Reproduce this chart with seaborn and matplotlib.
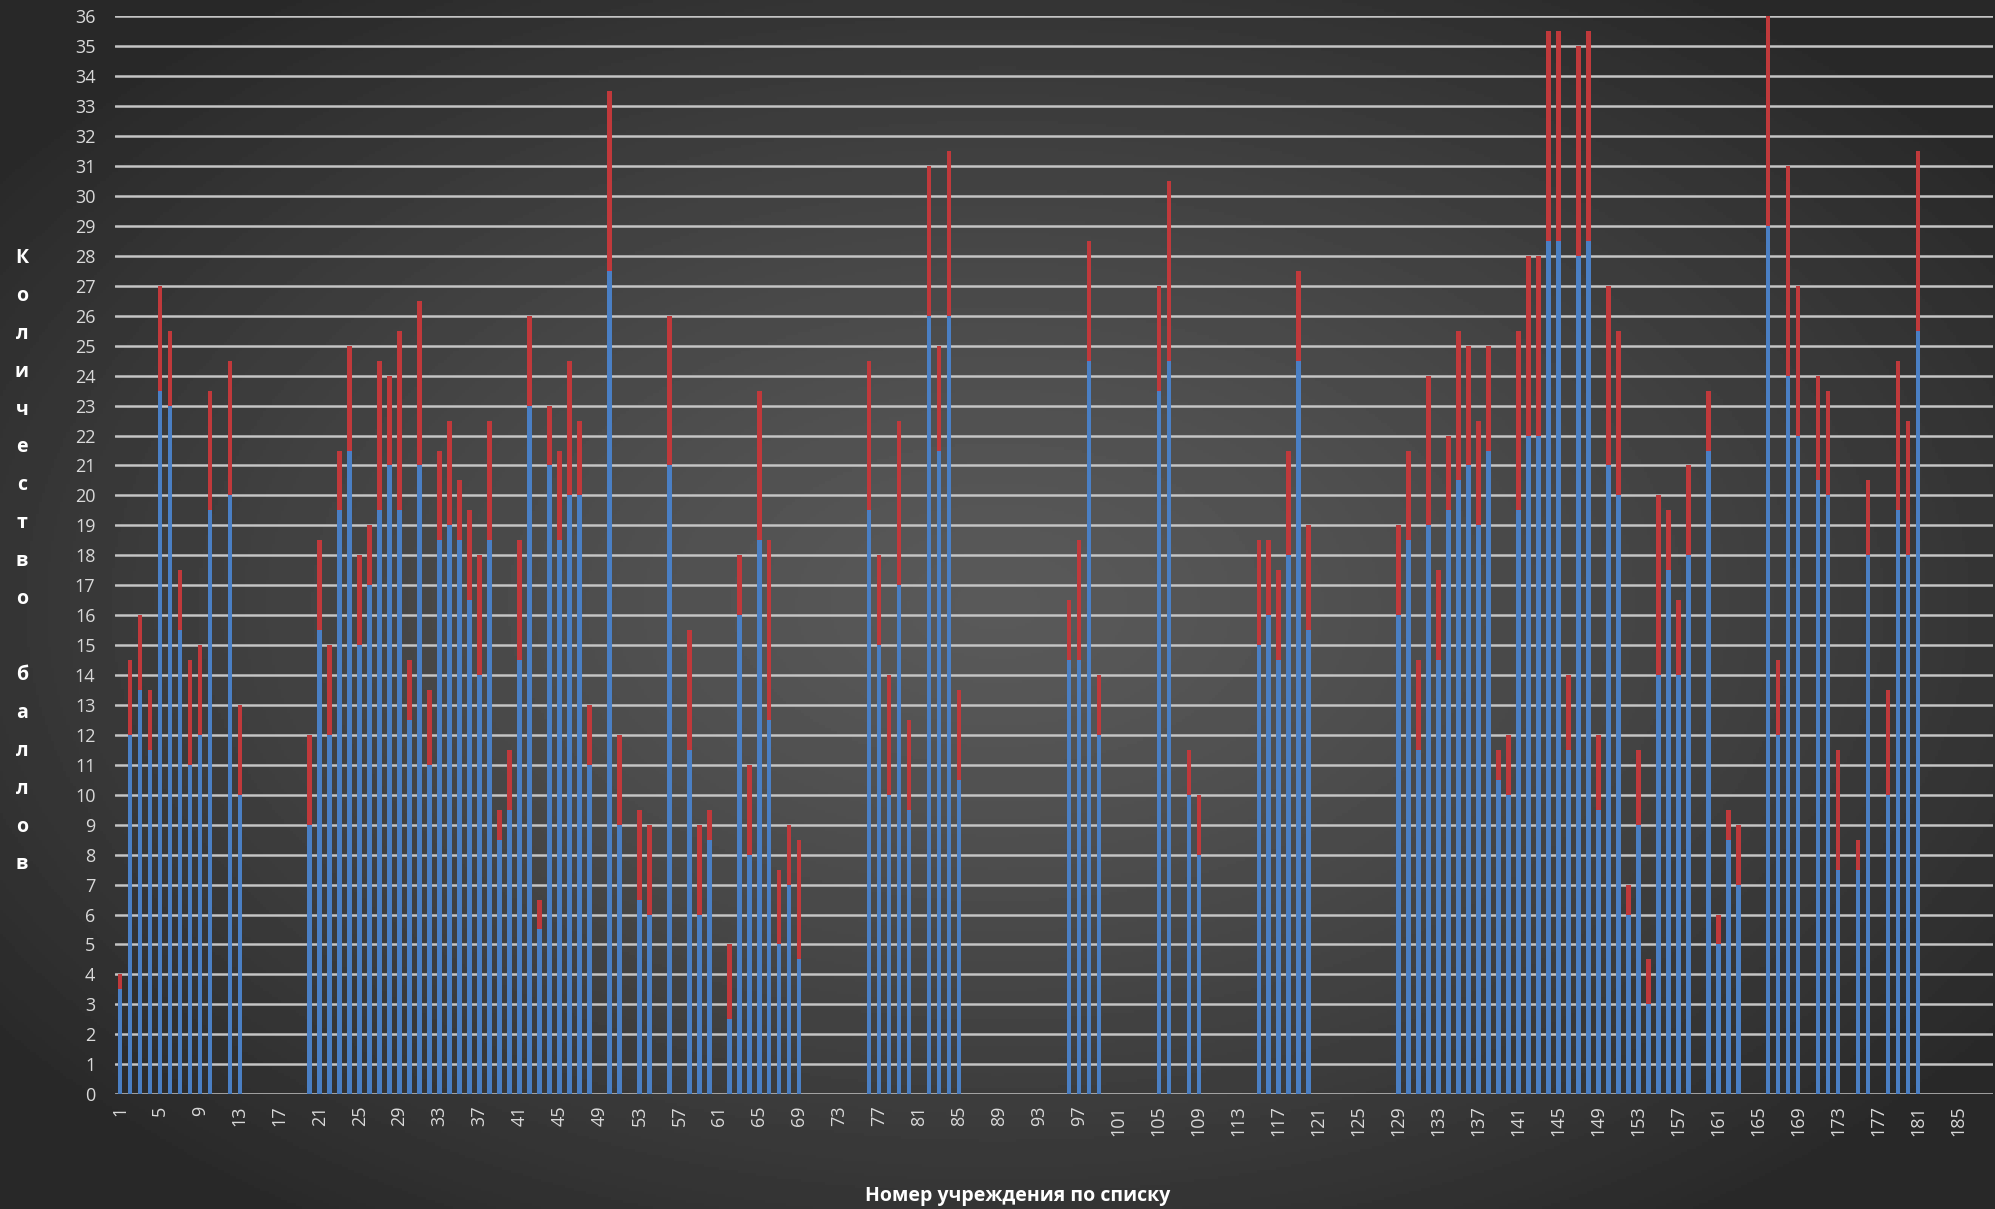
import numpy as np
import pandas as pd
import matplotlib
matplotlib.use("Agg")
import matplotlib.pyplot as plt
import seaborn as sns

N_INST = 188

# institution numbers that have scores (all others are empty)
inst = [1, 2, 3, 4, 5, 6, 7, 8, 9, 10, 12, 13,
        20, 21, 22, 23, 24, 25, 26, 27, 28, 29, 30, 31, 32, 33, 34, 35, 36, 37, 38, 39,
        40, 41, 42, 43, 44, 45, 46, 47, 48, 50, 51, 53, 54, 56, 58, 59, 60,
        62, 63, 64, 65, 66, 67, 68, 69,
        76, 77, 78, 79, 80, 82, 83, 84, 85,
        96, 97, 98, 99, 105, 106, 108, 109,
        115, 116, 117, 118, 119, 120,
        129, 130, 131, 132, 133, 134, 135, 136, 137, 138, 139, 140, 141, 142, 143, 144,
        145, 146, 147, 148, 149, 150, 151, 152, 153, 154, 155, 156, 157, 158,
        160, 161, 162, 163, 166, 167, 168, 169, 171, 172, 173, 175, 176, 178, 179, 180, 181]

# lower (blue) part of each bar
blue = [3.5, 12, 13.5, 11.5, 23.5, 23, 15.5, 11, 12, 19.5, 20, 10,
        9, 15.5, 12, 19.5, 21.5, 15, 17, 19.5, 21, 19.5, 12.5, 21, 11, 18.5, 19, 18.5, 16.5, 14, 18.5, 8.5,
        9.5, 14.5, 23, 5.5, 21, 18.5, 20, 20, 11, 27.5, 9, 6.5, 6, 21, 11.5, 6, 8.5,
        2.5, 16, 8, 18.5, 12.5, 5, 7, 4.5,
        19.5, 15, 10, 17, 9.5, 26, 21.5, 26, 10.5,
        14.5, 14.5, 24.5, 12, 23.5, 24.5, 10, 8,
        15, 16, 14.5, 18, 24.5, 15.5,
        16, 18.5, 11.5, 19, 14.5, 19.5, 20.5, 21, 19, 21.5, 10.5, 10, 19.5, 22, 22, 28.5,
        28.5, 11.5, 28, 28.5, 9.5, 21, 20, 6, 9, 3, 14, 17.5, 14, 18,
        21.5, 5, 8.5, 7, 29, 12, 24, 22, 20.5, 20, 7.5, 7.5, 18, 10, 19.5, 18, 25.5]

# full bar height (top of the red part)
total = [4, 14.5, 16, 13.5, 27, 25.5, 17.5, 14.5, 15, 23.5, 24.5, 13,
         12, 18.5, 15, 21.5, 25, 18, 19, 24.5, 24, 25.5, 14.5, 26.5, 13.5, 21.5, 22.5, 20.5, 19.5, 18, 22.5, 9.5,
         11.5, 18.5, 26, 6.5, 23, 21.5, 24.5, 22.5, 13, 33.5, 12, 9.5, 9, 26, 15.5, 9, 9.5,
         5, 18, 11, 23.5, 18.5, 7.5, 9, 8.5,
         24.5, 18, 14, 22.5, 12.5, 31, 25, 31.5, 13.5,
         16.5, 18.5, 28.5, 14, 27, 30.5, 11.5, 10,
         18.5, 18.5, 17.5, 21.5, 27.5, 19,
         19, 21.5, 14.5, 24, 17.5, 22, 25.5, 25, 22.5, 25, 11.5, 12, 25.5, 28, 28, 35.5,
         35.5, 14, 35, 35.5, 12, 27, 25.5, 7, 11.5, 4.5, 20, 19.5, 16.5, 21,
         23.5, 6, 9.5, 9, 36, 14.5, 31, 27, 24, 23.5, 11.5, 8.5, 20.5, 13.5, 24.5, 22.5, 31.5]

sns.set_style("dark")
plt.rcParams["font.family"] = ["Open Sans", "DejaVu Sans"]

# full frame over all institution numbers, empty ones at zero
scores = pd.DataFrame({"inst": inst, "blue": blue, "total": total})
df = pd.DataFrame({"inst": np.arange(1, N_INST + 1)}).merge(scores, on="inst", how="left").fillna(0)
df["label"] = df["inst"].astype(str)
order = list(df["label"])

fig = plt.figure(figsize=(19.95, 12.09), dpi=100)

# dark radial background
bg = fig.add_axes([0, 0, 1, 1], zorder=-10)
yy, xx = np.mgrid[0:1:400j, 0:1:660j]
d = np.sqrt(((xx - 0.5) / 0.62) ** 2 + ((yy - 0.5) / 0.62) ** 2)
shade = 0.35 - 0.19 * np.clip(d, 0, 1) ** 1.3
bg.imshow(shade, cmap="gray", vmin=0, vmax=1, aspect="auto", extent=[0, 1, 0, 1])
bg.axis("off")

ax = fig.add_axes([0.0576, 0.095, 0.9414, 0.8914])
ax.patch.set_alpha(0)

bar_kw = dict(order=order, width=0.45, saturation=1, errorbar=None,
              linewidth=0, edgecolor="none", ax=ax)
sns.barplot(data=df, x="label", y="total", color="#c0393b", **bar_kw)
sns.barplot(data=df, x="label", y="blue", color="#4a7fc4", **bar_kw)

ax.set_xlim(-0.5, N_INST - 0.5)
ax.set_ylim(0, 36)
ax.set_yticks(range(0, 37))
ax.yaxis.grid(True, color="#c4c4c4", lw=1.8)
ax.xaxis.grid(False)
ax.set_axisbelow(True)
ax.set_xticks(range(0, N_INST, 4))
ax.set_xticklabels(order[::4], rotation=90)
ax.tick_params(axis="both", length=0, colors="#d9d9d9", labelsize=13)
ax.tick_params(axis="y", pad=14)
ax.tick_params(axis="x", pad=8)
ax.set_xlabel("")
ax.set_ylabel("")
for s in ax.spines.values():
    s.set_visible(False)

# vertical axis title, one letter per line
ytitle = "Количество баллов"
y0, step = 1 - 258 / 1209, 37.9 / 1209
for i, ch in enumerate(ytitle):
    fig.text(22 / 1995, y0 - i * step, ch, ha="center", va="center",
             color="white", fontsize=14, fontweight="bold")

fig.text(1018 / 1995, 1 - 1196 / 1209, "Номер учреждения по списку", ha="center",
         va="center", color="white", fontsize=14, fontweight="bold")

fig.savefig("out.png", dpi=100)
